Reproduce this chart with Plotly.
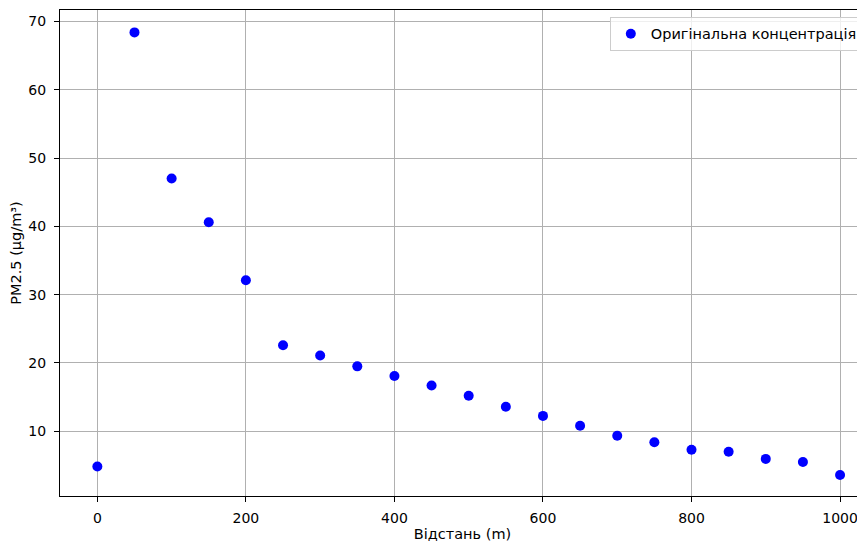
import plotly.graph_objects as go

distance_m = [0, 50, 100, 150, 200, 250, 300, 350, 400, 450, 500,
              550, 600, 650, 700, 750, 800, 850, 900, 950, 1000]
pm25 = [4.85, 68.4, 47.0, 40.6, 32.1, 22.6, 21.1, 19.5, 18.1, 16.7, 15.2,
        13.6, 12.25, 10.8, 9.35, 8.4, 7.3, 7.0, 5.95, 5.5, 3.6]
series_name = "Оригінальна концентрація"
x_ticks = [0, 200, 400, 600, 800, 1000]
y_ticks = [10, 20, 30, 40, 50, 60, 70]

font = "DejaVu Sans, Liberation Sans, sans-serif"

fig = go.Figure()
fig.add_trace(go.Scatter(
    x=distance_m, y=pm25, mode="markers", name=series_name,
    marker=dict(color="#0000ff", size=10, line=dict(width=0)),
    showlegend=True,
))

axis_common = dict(
    showgrid=True, gridcolor="#b0b0b0", gridwidth=1,
    zeroline=False, showline=True, linecolor="#000000", linewidth=1,
    ticks="outside", ticklen=5, tickcolor="#000000", tickwidth=1,
    tickfont=dict(family=font, size=14, color="#000000"),
)

# page body has an 8px margin, so the figure is sized 8px smaller
fig.update_layout(
    width=857, height=535,
    margin=dict(l=52, r=0, t=2, b=47),
    paper_bgcolor="white", plot_bgcolor="white",
    font=dict(family=font, size=14, color="#000000"),
    xaxis=dict(
        range=[-50.3, 1033.6], tickvals=x_ticks, mirror=True,
        ticklabelstandoff=4,
        title=dict(text="Відстань (m)", font=dict(family=font, size=14.5), standoff=4),
        **axis_common,
    ),
    yaxis=dict(
        range=[0.52, 71.68], tickvals=y_ticks, mirror=False,
        ticklabelstandoff=5,
        title=dict(text="PM2.5 (μg/m³)", font=dict(family=font, size=14.5), standoff=6),
        **axis_common,
    ),
    legend=dict(
        x=0.683, y=0.986, xanchor="left", yanchor="top",
        bgcolor="rgba(255,255,255,0.8)", bordercolor="#cccccc", borderwidth=1,
        font=dict(family=font, size=14.5, color="#000000"),
    ),
)

fig.write_html("out.html")
